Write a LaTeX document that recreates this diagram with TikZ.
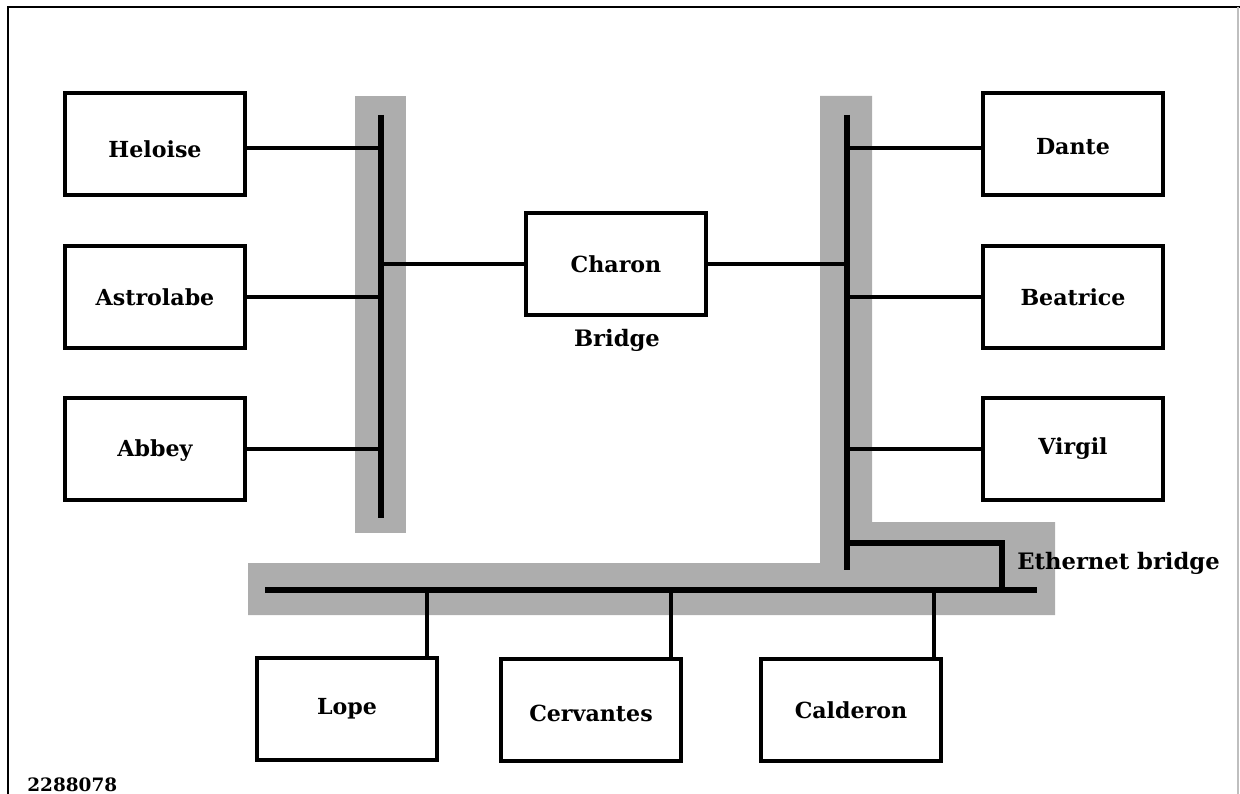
\documentclass[tikz,border=0pt]{standalone}
\usepackage{fontspec}
\setmainfont{DejaVu Serif}
\newcommand{\dn}[2]{\raisebox{-#1}[\height][\depth]{#2}}
\begin{document}
\begin{tikzpicture}[x=0.02cm,y=-0.02cm,
  hostbox/.style={draw, line width=2.2pt, minimum width=3.6cm, minimum height=2.05cm, inner sep=0pt,
     font=\fontsize{12.6}{14}\selectfont\bfseries},
  busline/.style={line width=3.2pt},
  link/.style={line width=2pt},
  shade/.style={fill=black!32, draw=none},
  lbl/.style={font=\fontsize{12.9}{14}\selectfont\bfseries, inner sep=0pt}]
\useasboundingbox (0,0) rectangle (1240,794);
% frame
\draw[line width=1.1pt] (8,794) -- (8,7) -- (1240,7);
\draw[line width=0.6pt, black!25] (1238,7) -- (1238,794);
% shaded segments
\fill[shade] (355,96) rectangle (406,533);
\fill[shade] (820,96) -- (872,96) -- (872,522) -- (1055,522) -- (1055,615) -- (248,615) -- (248,563) -- (820,563) -- cycle;
% hosts
\node[hostbox] (heloise) at (155,144) {\dn{0.11cm}{Heloise}};
\node[hostbox] (astrolabe) at (155,297) {Astrolabe};
\node[hostbox] (abbey) at (155,449) {\dn{0.04cm}{Abbey}};
\node[hostbox] (charon) at (616,264) {Charon};
\node[hostbox] (dante) at (1073,144) {\dn{0.05cm}{Dante}};
\node[hostbox] (beatrice) at (1073,297) {Beatrice};
\node[hostbox] (virgil) at (1073,449) {Virgil};
\node[hostbox] (lope) at (347,709) {Lope};
\node[hostbox] (cervantes) at (591,710) {\dn{0.07cm}{Cervantes}};
\node[hostbox] (calderon) at (851,710) {Calderon};
% bus coordinates
\coordinate (busLtop) at (381,115);
\coordinate (busLbot) at (381,518);
\coordinate (busRtop) at (847,115);
\coordinate (busRbot) at (847,570);
\coordinate (busBl) at (265,590);
\coordinate (busBr) at (1037,590);
\coordinate (ebA) at (847,543);
\coordinate (ebB) at (1002,590);
% buses
\draw[busline] (busLtop) -- (busLbot);
\draw[busline] (busRtop) -- (busRbot);
\draw[busline] (busBl) -- (busBr);
\draw[busline] (ebA) -| (ebB);
% links
\draw[link] ([yshift=-0.08cm]heloise.east) -- ([yshift=-0.08cm]heloise.east -| busLtop);
\draw[link] (astrolabe.east) -- (astrolabe.east -| busLtop);
\draw[link] (abbey.east) -- (abbey.east -| busLtop);
\draw[link] (charon.west -| busLtop) -- (charon.west);
\draw[link] (charon.east) -- (charon.east -| busRtop);
\draw[link] ([yshift=-0.08cm]dante.west) -- ([yshift=-0.08cm]dante.west -| busRtop);
\draw[link] (beatrice.west) -- (beatrice.west -| busRtop);
\draw[link] (virgil.west) -- (virgil.west -| busRtop);
\draw[link] ([xshift=1.6cm]lope.north) -- ([xshift=1.6cm]lope.north |- busBl);
\draw[link] ([xshift=1.6cm]cervantes.north) -- ([xshift=1.6cm]cervantes.north |- busBl);
\draw[link] ([xshift=1.66cm]calderon.north) -- ([xshift=1.66cm]calderon.north |- busBl);
% labels
\node[lbl] (bridge) at (617,340) {Bridge};
\node[lbl, anchor=west] (ether) at (1017,563) {Ethernet bridge};
\node[lbl, anchor=south west, font=\fontsize{10.5}{12}\selectfont\bfseries] (fig) at (27,792) {2288078};
\end{tikzpicture}
\end{document}
